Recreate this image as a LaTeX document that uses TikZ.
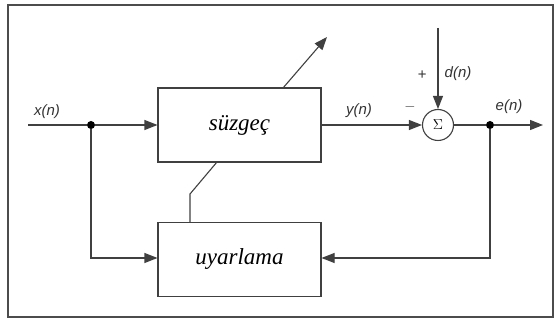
\documentclass[tikz,border=0pt]{standalone}
\usepackage{fontspec}
\setmainfont{Liberation Serif}
\setsansfont{Liberation Sans}
\usetikzlibrary{arrows.meta}
\begin{document}
\begin{tikzpicture}[x=1pt,y=-1pt,
  line/.style={draw=black!75, line width=1.1pt},
  arr/.style={line, -{Triangle[length=13pt,width=10pt]}},
  blk/.style={draw=black!75, line width=1.1pt, minimum width=163pt, minimum height=74pt, inner sep=0pt, font=\fontsize{23}{26}\selectfont\itshape},
  sig/.style={font=\sffamily\itshape\fontsize{15}{17}\selectfont, text=black!80, inner sep=0pt},
  dotn/.style={circle, fill=black, inner sep=0pt, minimum size=8pt}]
\useasboundingbox (0,0) rectangle (555,320);
\draw[draw=black!70, line width=1.4pt] (8,5) rectangle (553,317);
\node[blk] (filt) at (239.5,125) {süzgeç};
\node[blk] (adapt) at (239.5,259.5) {uyarlama};
\node[circle, draw=black!75, line width=1.1pt, minimum size=31pt, inner sep=0pt, font=\fontsize{15}{17}\selectfont] (sum) at (438,125) {$\Sigma$};
\coordinate (in) at (28,125);
\node[dotn] (j1) at (91,125) {};
\coordinate (j1b) at (91,258);
\node[dotn] (j2) at (490,125) {};
\coordinate (j2b) at (490,258);
\coordinate (out) at (543,125);
\coordinate (din) at (438,28);
\coordinate (k1) at (190,194);
\coordinate (k2) at (217,162);
\coordinate (a1) at (283,88);
\coordinate (a2) at (327,37);
\draw[line] (in) -- (j1);
\draw[arr] (j1) -- (filt.west);
\draw[arr] (j1) -- (j1b) -- (adapt.west |- j1b);
\draw[arr] (filt.east) -- (sum.west);
\draw[arr] (din) -- (sum.north);
\draw[line] (sum.east) -- (j2);
\draw[arr] (j2) -- (out);
\draw[arr] (j2) -- (j2b) -- (adapt.east |- j2b);
\draw[line] (adapt.north -| k1) -- (k1) -- (k2);
\draw[arr] (a1) -- (a2);
\node[sig] (lx) at (47,112) {x(n)};
\node[sig] (ly) at (359,111) {y(n)};
\node[sig] (le) at (509,107) {e(n)};
\node[sig] (ld) at (458,74) {d(n)};
\node[sig] (lp) at (422,75) {+};
\node[sig] (lm) at (410,107) {$-$};
\end{tikzpicture}
\end{document}
